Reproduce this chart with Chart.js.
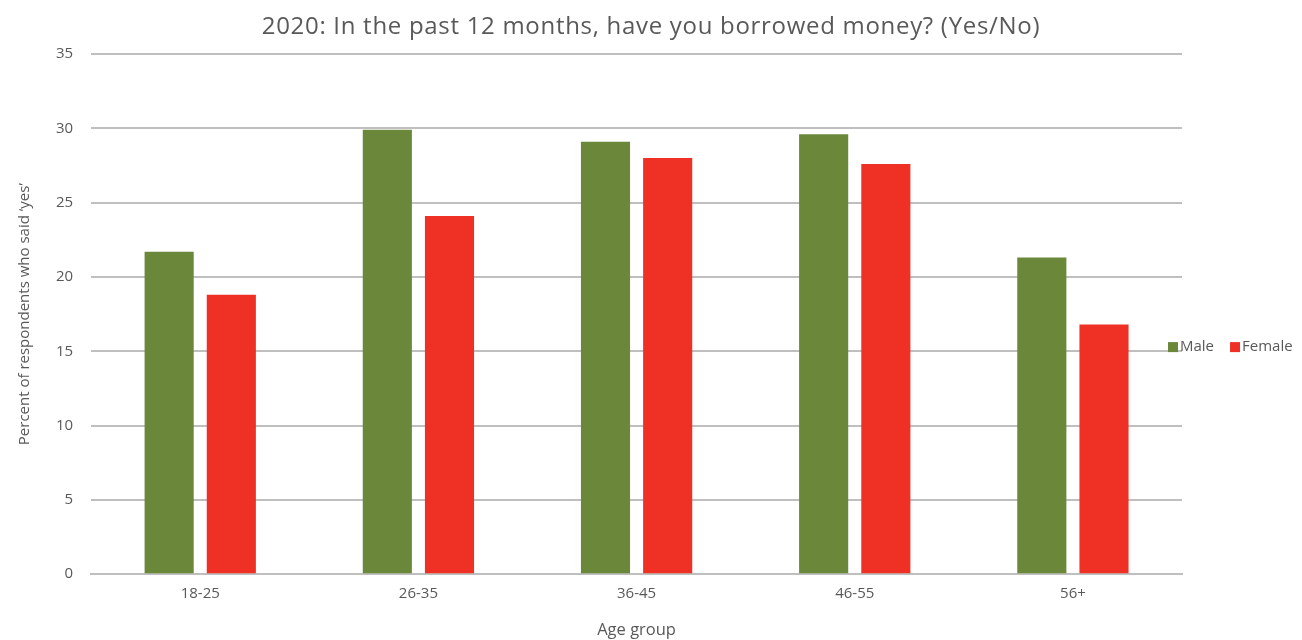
<!DOCTYPE html>
<html>
<head>
<meta charset="utf-8">
<script src="https://cdn.jsdelivr.net/npm/chart.js@4"></script>
<style>
  html, body { margin: 0; padding: 0; background: #fff; }
  #wrap { width: 1302px; height: 640px; }
</style>
</head>
<body>
<div id="wrap"><canvas id="borrowChart"></canvas></div>
<script>
const chartTitle = '2020: In the past 12 months, have you borrowed money? (Yes/No)';
const ageGroups = ['18-25', '26-35', '36-45', '46-55', '56+'];
const maleValues = [21.7, 29.9, 29.1, 29.6, 21.3];
const femaleValues = [18.8, 24.1, 28.0, 27.6, 16.8];
const seriesNames = ['Male', 'Female'];
const seriesColors = ['#6a873a', '#ee3124'];

// title centred on the whole canvas, legend in one row right of the plot
const decorations = {
  id: 'decorations',
  afterDraw(chart) {
    const ctx = chart.ctx;
    ctx.save();
    ctx.fillStyle = '#595959';
    ctx.font = '24px "Open Sans"';
    ctx.letterSpacing = '0.7px';
    ctx.textAlign = 'center';
    ctx.textBaseline = 'middle';
    ctx.fillText(chartTitle, chart.width / 2, 27);
    ctx.letterSpacing = '0px';

    const y = (chart.chartArea.top + chart.chartArea.bottom) / 2 + 33;
    let x = 1168;
    ctx.font = '15px "Open Sans"';
    ctx.textAlign = 'left';
    seriesNames.forEach((name, i) => {
      ctx.fillStyle = seriesColors[i];
      ctx.fillRect(x, y - 5, 10, 10);
      ctx.fillStyle = '#595959';
      ctx.fillText(name, x + 12, y);
      x += 12 + ctx.measureText(name).width + 16;
    });
    ctx.restore();
  }
};

new Chart(document.getElementById('borrowChart'), {
  type: 'bar',
  data: {
    labels: ageGroups,
    datasets: [
      { label: seriesNames[0], data: maleValues, backgroundColor: seriesColors[0] },
      { label: seriesNames[1], data: femaleValues, backgroundColor: seriesColors[1] }
    ]
  },
  options: {
    responsive: true,
    maintainAspectRatio: false,
    animation: false,
    categoryPercentage: 0.57,
    barPercentage: 0.79,
    layout: { padding: { left: 12, right: 120, top: 54, bottom: 0 } },
    plugins: {
      legend: { display: false },
      tooltip: { enabled: false },
      title: { display: false }
    },
    scales: {
      x: {
        grid: { display: false },
        border: { color: '#bfbfbf', width: 2 },
        ticks: { color: '#595959', font: { family: 'Open Sans', size: 15 }, padding: 3 },
        title: {
          display: true,
          text: 'Age group',
          color: '#595959',
          font: { family: 'Open Sans', size: 16.5 },
          padding: { top: 14, bottom: 0 }
        }
      },
      y: {
        min: 0,
        max: 35,
        ticks: { stepSize: 5, color: '#595959', font: { family: 'Open Sans', size: 15 }, padding: 18 },
        grid: { color: '#bfbfbf', lineWidth: 2, drawTicks: false },
        border: { display: false },
        title: {
          display: true,
          text: 'Percent of respondents who said \u2018yes\u2019',
          color: '#595959',
          font: { family: 'Open Sans', size: 15 },
          padding: { bottom: 4 }
        }
      }
    }
  },
  plugins: [decorations]
});
</script>
</body>
</html>
